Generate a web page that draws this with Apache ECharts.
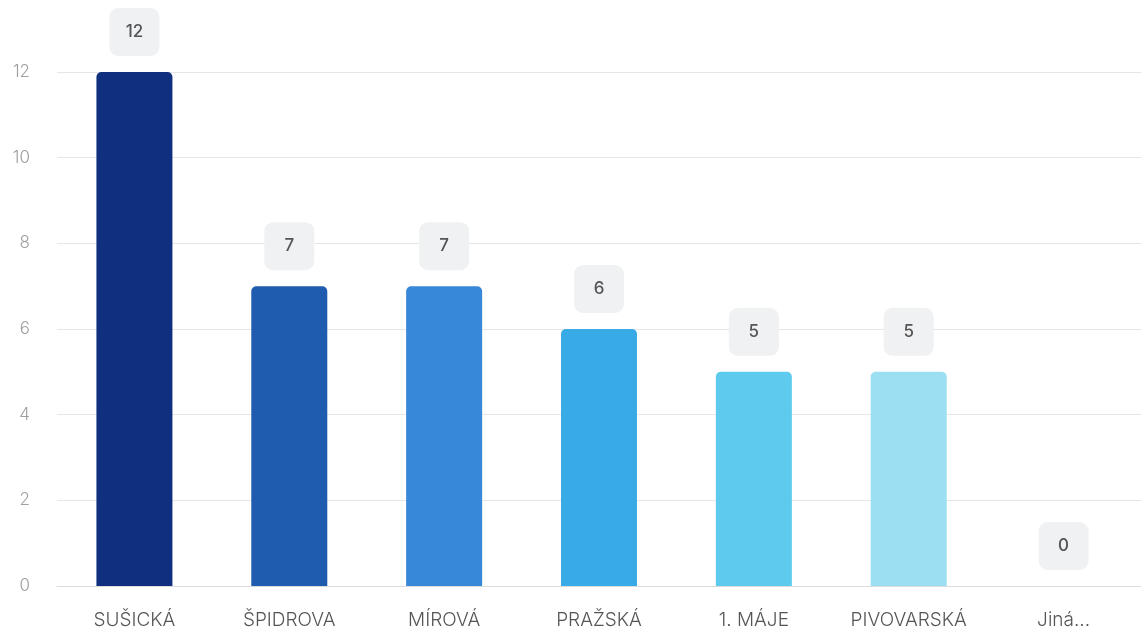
<!DOCTYPE html>
<html>
<head>
<meta charset="utf-8">
<script src="https://cdn.jsdelivr.net/npm/echarts@6/dist/echarts.min.js"></script>
<style>
  html, body { margin: 0; padding: 0; background: #fff; }
  #chart { width: 1141px; height: 636px; }
</style>
</head>
<body>
<div id="chart"></div>
<script>
  // data
  const categories = ['SUŠICKÁ', 'ŠPIDROVA', 'MÍROVÁ', 'PRAŽSKÁ', '1. MÁJE', 'PIVOVARSKÁ', 'Jiná...'];
  const values = [12, 7, 7, 6, 5, 5, 0];
  const barColors = ['#10307f', '#1f5bae', '#3788d8', '#38aae5', '#5ecbee', '#9cdff2', '#c8eefa'];

  const chart = echarts.init(document.getElementById('chart'));
  const option = {
    animation: false,
    textStyle: { fontFamily: 'Inter, "Noto Sans", sans-serif' },
    grid: {
      left: 57,
      right: 0,
      top: 72,
      bottom: 50
    },
    xAxis: {
      type: 'category',
      data: categories,
      axisTick: { show: false },
      axisLine: { lineStyle: { color: '#dcdcdc' } },
      axisLabel: {
        color: '#555',
        fontSize: 19,
        fontWeight: 300,
        margin: 25
      }
    },
    yAxis: {
      type: 'value',
      min: 0,
      max: 12,
      interval: 2,
      axisLine: { show: false },
      axisTick: { show: false },
      splitLine: { lineStyle: { color: '#e6e6e6' } },
      axisLabel: {
        color: '#a0a0a0',
        fontSize: 17,
        fontWeight: 300,
        margin: 27
      }
    },
    series: [
      {
        type: 'bar',
        barWidth: 76,
        data: values.map((v, i) => ({
          value: v,
          itemStyle: { color: barColors[i] }
        })),
        itemStyle: {
          borderRadius: [5, 5, 0, 0]
        },
        label: {
          show: true,
          position: 'top',
          distance: 16,
          width: 50,
          height: 48,
          lineHeight: 48,
          align: 'center',
          backgroundColor: '#f0f1f2',
          borderRadius: 9,
          color: '#555',
          fontSize: 17,
          fontWeight: 500
        }
      }
    ]
  };
  chart.setOption(option);
</script>
</body>
</html>
